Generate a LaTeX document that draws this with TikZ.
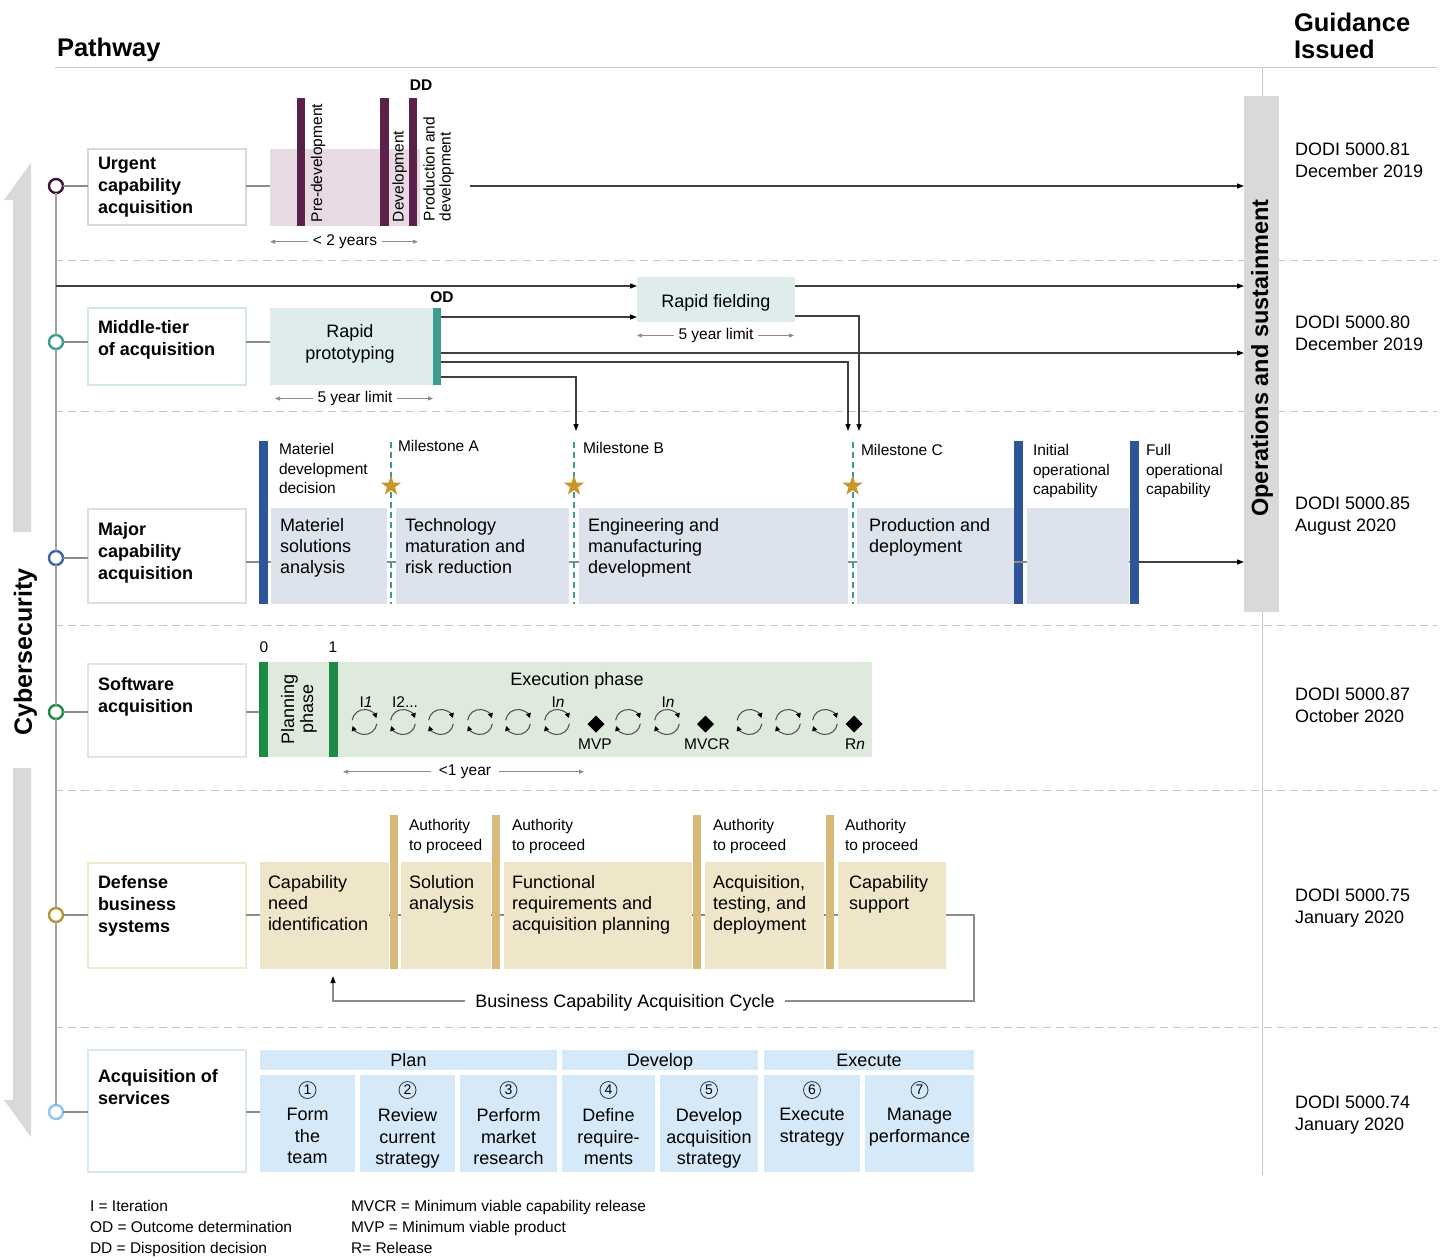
\documentclass[tikz,border=0pt]{standalone}
\usepackage{fontspec}
\setmainfont{Liberation Sans}
\usetikzlibrary{arrows.meta,shapes.geometric,calc}
\definecolor{sepgray}{HTML}{C4C4C4}
\definecolor{rulegray}{HTML}{C8C8C8}
\definecolor{rowgray}{HTML}{8C8C8C}
\definecolor{spinegray}{HTML}{A0A0A0}
\definecolor{dline}{HTML}{3F3F3F}
\definecolor{dimgray}{HTML}{8C8C8C}
\definecolor{osgray}{HTML}{D9D9D9}
\definecolor{cyberg}{HTML}{D9D9D9}
\definecolor{pinkL}{HTML}{E8DAE2}
\definecolor{purpD}{HTML}{5C2149}
\definecolor{tealL}{HTML}{DEEDEC}
\definecolor{tealD}{HTML}{3B9C8F}
\definecolor{blueL}{HTML}{DDE3EC}
\definecolor{blueD}{HTML}{2E5597}
\definecolor{greenL}{HTML}{DEEADC}
\definecolor{greenD}{HTML}{1E8A47}
\definecolor{goldL}{HTML}{EFE5C9}
\definecolor{goldD}{HTML}{D7B97A}
\definecolor{skyL}{HTML}{D5E9F8}
\definecolor{starcol}{HTML}{C9962B}
\definecolor{lbA}{HTML}{DCD6D9}
\definecolor{lbB}{HTML}{D3E8E5}
\definecolor{lbC}{HTML}{D6DEEA}
\definecolor{lbD}{HTML}{DCE9DB}
\definecolor{lbE}{HTML}{F2E7C6}
\definecolor{lbF}{HTML}{D5E9F8}
\definecolor{cA}{HTML}{3E1236}
\definecolor{cB}{HTML}{3B9C8F}
\definecolor{cC}{HTML}{3A63A8}
\definecolor{cD}{HTML}{1E8A47}
\definecolor{cE}{HTML}{B8952F}
\definecolor{cF}{HTML}{8EC6EE}
\tikzset{
  every node/.style={inner sep=0pt, outer sep=0pt},
  wh/.style 2 args={minimum width=#1pt, minimum height=#2pt, anchor=north west},
  lbox/.style={draw, line width=2pt, fill=white},
  dotc/.style={circle, draw, line width=2.4pt, fill=white, minimum size=14pt},
  rowline/.style={draw=rowgray, line width=1.1pt},
  spine/.style={draw=spinegray, line width=1.3pt},
  conn/.style={draw=dline, line width=1.1pt, -{Triangle[length=7pt,width=5pt,color=black]}},
  grayconn/.style={draw=rowgray, line width=1.1pt, -{Triangle[length=7pt,width=5pt,color=black]}},
  dimarr/.style={draw=dimgray, line width=0.8pt, -{Triangle[length=5pt,width=4pt]}},
  sep/.style={draw=sepgray, line width=1pt, dash pattern=on 8pt off 5pt},
  rule/.style={draw=rulegray, line width=1pt},
  msd/.style={draw=tealD, line width=2pt, dash pattern=on 6pt off 4pt},
  starn/.style={star, star points=5, star point ratio=2.5, fill=starcol, minimum size=21pt},
  dia/.style={diamond, fill=black, minimum width=17pt, minimum height=17pt},
  numc/.style={circle, draw=black!80, line width=0.8pt, minimum size=17pt, font=\fontsize{14}{14}\selectfont},
  hdr/.style={font=\bfseries\fontsize{25.5}{27}\selectfont},
  tlbl/.style={font=\bfseries\fontsize{18}{22}\selectfont, align=left, anchor=north west},
  tbig/.style={font=\fontsize{18}{21}\selectfont, align=left, anchor=north west},
  tsm/.style={font=\fontsize{15.5}{19.5}\selectfont, align=left, anchor=north west},
  tsmb/.style={font=\fontsize{15.5}{19}\selectfont, anchor=base},
  tbigb/.style={font=\fontsize{18}{21}\selectfont, anchor=base},
  tdodi/.style={font=\fontsize{18}{22}\selectfont, align=left, anchor=north west},
  tstep/.style={font=\fontsize{18}{21.5}\selectfont, align=center, anchor=north},
  tleg/.style={font=\fontsize{15.5}{21}\selectfont, align=left, anchor=north west},
  cycarr/.style={draw=black!70, line width=1pt, -{Triangle[length=5pt,width=5pt,color=black]}},
  cyc/.pic={
    \draw[cycarr, y=1pt] (172:12.5) arc[start angle=172, end angle=18, radius=12.5];
    \draw[cycarr, y=1pt] (352:12.5) arc[start angle=352, end angle=198, radius=12.5];
  }
}
\begin{document}
\begin{tikzpicture}[x=1pt,y=-1pt]
\useasboundingbox[fill=white] (0,0) rectangle (1443,1258);

% ---------- rules and separators
\draw[rule] (55,67) -- (1437,67);
\draw[rule] (1262,67) -- (1262,1175);
\foreach \yy in {260,411,625,790,1027} \draw[sep] (55,\yy) -- (1437,\yy);

% ---------- headers
\node[hdr, anchor=base west] (hpath) at (57,56) {Pathway};
\node[hdr, anchor=north west, align=left] (hguid) at (1294,13) {Guidance\\Issued};

% ---------- cybersecurity arrows
\fill[cyberg] (31,163) -- (31,532) -- (13,532) -- (13,200) -- (4,200) -- cycle;
\fill[cyberg] (13,768) -- (31,768) -- (31,1137) -- (4,1100) -- (13,1100) -- cycle;
\node[rotate=90, font=\bfseries\fontsize{25}{30}\selectfont] (cyber) at (25.5,652) {Cybersecurity};

% ---------- operations and sustainment
\node[fill=osgray, wh={35}{516}] (os) at (1244,96) {};
\node[rotate=90, font=\bfseries\fontsize{23.5}{28}\selectfont] (ostxt) at (1262,358) {Operations and sustainment};

% ---------- circles and spine
\node[dotc, draw=cA] (c1) at (56,186) {};
\node[dotc, draw=cB] (c2) at (56,342) {};
\node[dotc, draw=cC] (c3) at (56,558) {};
\node[dotc, draw=cD] (c4) at (56,712) {};
\node[dotc, draw=cE] (c5) at (56,915) {};
\node[dotc, draw=cF] (c6) at (56,1112) {};
\draw[spine] (c1) -- (c2);
\draw[spine] (c2) -- (c3);
\draw[spine] (c3) -- (c4);
\draw[spine] (c4) -- (c5);
\draw[spine] (c5) -- (c6);

% ---------- label boxes
\node[lbox, draw=lbA, wh={158}{76}] (lb1) at (88,149) {};
\node[lbox, draw=lbB, wh={158}{77}] (lb2) at (88,308) {};
\node[lbox, draw=lbC, wh={158}{94}] (lb3) at (88,509) {};
\node[lbox, draw=lbD, wh={158}{93}] (lb4) at (88,664) {};
\node[lbox, draw=lbE, wh={158}{105}] (lb5) at (88,863) {};
\node[lbox, draw=lbF, wh={158}{122}] (lb6) at (88,1050) {};
\node[tlbl] (lt1) at (98,157) {Urgent\\capability\\acquisition};
\node[tlbl] (lt2) at (98,320) {Middle-tier\\of acquisition};
\node[tlbl] (lt3) at (98,522) {Major\\capability\\acquisition};
\node[tlbl] (lt4) at (98,677) {Software\\acquisition};
\node[tlbl] (lt5) at (98,875) {Defense\\business\\systems};
\node[tlbl] (lt6) at (98,1069) {Acquisition of\\services};
\draw[rowline] (c1) -- (lb1.west |- c1);
\draw[rowline] (c2) -- (lb2.west |- c2);
\draw[rowline] (c3) -- (lb3.west |- c3);
\draw[rowline] (c4) -- (lb4.west |- c4);
\draw[rowline] (c5) -- (lb5.west |- c5);
\draw[rowline] (c6) -- (lb6.west |- c6);

% ---------- DODI texts
\node[tdodi] (g1t) at (1295,142.5) {DODI 5000.81\\December 2019};
\node[tdodi] (g2t) at (1295,315.5) {DODI 5000.80\\December 2019};
\node[tdodi] (g3t) at (1295,496.5) {DODI 5000.85\\August 2020};
\node[tdodi] (g4t) at (1295,687.5) {DODI 5000.87\\October 2020};
\node[tdodi] (g5t) at (1295,888.5) {DODI 5000.75\\January 2020};
\node[tdodi] (g6t) at (1295,1095.5) {DODI 5000.74\\January 2020};

% ================= URGENT
\node[fill=pinkL, wh={150}{77}] (pk) at (270,149) {};
\draw[rowline] (lb1.east |- c1) -- (pk.west |- c1);
\node[fill=purpD, wh={8}{128}] (ub1) at (297,98) {};
\node[fill=purpD, wh={9}{128}] (ub2) at (380,98) {};
\node[fill=purpD, wh={8}{128}] (ub3) at (409,98) {};
\node[rotate=90, anchor=west, font=\fontsize{15.5}{19}\selectfont] (ut1) at (318,222) {Pre-development};
\node[rotate=90, anchor=west, font=\fontsize{15.5}{19}\selectfont] (ut2) at (399.5,222) {Development};
\node[rotate=90, anchor=north west, align=left, font=\fontsize{15.5}{16}\selectfont] (ut3) at (423.5,221) {Production and\\development};
\node[font=\bfseries\fontsize{15.5}{18}\selectfont, anchor=base] (dd) at (421,90.5) {DD};
\node[tsmb] (y2) at (345,245.5) {< 2 years};
\draw[dimarr] ($(y2.west)+(-5,0)$) -- (pk.west |- y2);
\draw[dimarr] ($(y2.east)+(5,0)$) -- ($(pk.east |- y2)+(-2,0)$);
\coordinate (u0) at (470,186);
\draw[conn] (u0) -- (os.west |- u0);

% ================= MIDDLE-TIER
\node[fill=tealL, wh={163}{77}] (rp) at (270,308) {};
\draw[rowline] (lb2.east |- c2) -- (rp.west |- c2);
\node[font=\fontsize{18}{22}\selectfont, align=center] (rpt) at (350,344) {Rapid\\prototyping};
\node[fill=tealD, wh={8}{77}] (odb) at (433,308) {};
\node[font=\bfseries\fontsize{15.5}{18}\selectfont, anchor=base] (od) at (442,302.5) {OD};
\node[tsmb] (y5a) at (355,402.5) {5 year limit};
\draw[dimarr] ($(y5a.west)+(-5,0)$) -- ($(rp.west |- y5a)+(5,0)$);
\draw[dimarr] ($(y5a.east)+(5,0)$) -- (rp.east |- y5a);
\node[fill=tealL, wh={158}{45}] (rf) at (637,277) {};
\node[tbigb] (rft) at (716,307.5) {Rapid fielding};
\node[tsmb] (y5b) at (716,339.5) {5 year limit};
\draw[dimarr] ($(y5b.west)+(-5,0)$) -- (rf.west |- y5b);
\draw[dimarr] ($(y5b.east)+(5,0)$) -- ($(rf.east |- y5b)+(-1,0)$);
\coordinate (s286) at (56,286);
\draw[conn] (s286) -- (rf.west |- s286);
\draw[conn] (rf.east |- s286) -- (os.west |- s286);
\coordinate (o1) at (441,317);
\coordinate (o2) at (441,353);
\coordinate (o3) at (441,362);
\coordinate (o4) at (441,377);
\coordinate (r1) at (795,316);
\coordinate (mb) at (576,431);
\coordinate (mc1) at (848,431);
\coordinate (mc2) at (859,431);
\draw[conn] (o1) -- (rf.west |- o1);
\draw[conn] (o2) -- (os.west |- o2);
\draw[conn] (o3) -| (mc1);
\draw[conn] (o4) -| (mb);
\draw[conn] (r1) -| (mc2);

% ================= MAJOR
\coordinate (m0) at (246,562);
\node[fill=blueD, wh={9}{163}] (ioc) at (1014,441) {};
\node[fill=blueD, wh={9}{163}] (foc) at (1130,441) {};
\draw[rowline] (m0) -- (foc.west |- m0);
\node[fill=blueL, wh={116}{96}] (b31) at (271,508) {};
\node[fill=blueL, wh={173}{96}] (b32) at (396,508) {};
\node[fill=blueL, wh={269}{96}] (b33) at (579,508) {};
\node[fill=blueL, wh={157}{96}] (b34) at (857,508) {};
\node[fill=blueL, wh={102}{96}] (b35) at (1027,508) {};
\node[fill=blueD, wh={9}{163}] (mdd) at (259,441) {};
\coordinate (mAt) at (391,442); \coordinate (mAb) at (391,604);
\coordinate (mBt) at (574,442); \coordinate (mBb) at (574,604);
\coordinate (mCt) at (852.5,442); \coordinate (mCb) at (852.5,604);
\draw[msd] (mAt) -- (mAb);
\draw[msd] (mBt) -- (mBb);
\draw[msd] (mCt) -- (mCb);
\node[starn] (sA) at (391,486) {};
\node[starn] (sB) at (574,486) {};
\node[starn] (sC) at (852.5,486) {};
\node[tsm] (mddt) at (279,443.5) {Materiel\\development\\decision};
\node[tsm] (mAl) at (398,440) {Milestone A};
\node[tsm] (mBl) at (583,442) {Milestone B};
\node[tsm] (mCl) at (861,444) {Milestone C};
\node[tsm] (ioct) at (1033,444.5) {Initial\\operational\\capability};
\node[tsm] (foct) at (1146,444.5) {Full\\operational\\capability};
\node[tbig] (b31t) at (280,518.5) {Materiel\\solutions\\analysis};
\node[tbig] (b32t) at (405,518.5) {Technology\\maturation and\\risk reduction};
\node[tbig] (b33t) at (588,518.5) {Engineering and\\manufacturing\\development};
\node[tbig] (b34t) at (869,518.5) {Production and\\deployment};
\draw[conn] (foc.east |- m0) -- (os.west |- m0);

% ================= SOFTWARE
\node[fill=greenL, wh={604}{95}] (swf) at (268,662) {};
\draw[rowline] (lb4.east |- c4) -- (swf.west |- c4);
\node[fill=greenD, wh={9}{95}] (g0) at (259,662) {};
\node[fill=greenD, wh={9}{95}] (g1) at (329,662) {};
\node[tsmb] (z0) at (264,652.5) {0};
\node[tsmb] (z1) at (333,652.5) {1};
\node[rotate=90, align=center, font=\fontsize{18}{19}\selectfont] (plan) at (299,709) {Planning\\phase};
\node[tbigb] (exe) at (577,685.5) {Execution phase};
\foreach \cx [count=\ci] in {364.5,403,441,480,518,557,628,667,749.5,788,825}
  \pic (cy\ci) at (\cx,722) {cyc};
\node[dia] (dmvp) at (596,724) {};
\node[dia] (dmvcr) at (705.5,724) {};
\node[dia] (drn) at (854,724) {};
\node[tsmb] (li1) at (366,707.5) {I\textit{1}};
\node[tsmb] (li2) at (405,707.5) {I2...};
\node[tsmb] (lin1) at (558,707.5) {I\textit{n}};
\node[tsmb] (lin2) at (668,707.5) {I\textit{n}};
\node[tsmb] (lmvp) at (595,749.5) {MVP};
\node[tsmb] (lmvcr) at (707,749.5) {MVCR};
\node[tsmb] (lrn) at (855,749.5) {R\textit{n}};
\node[tsmb] (y1) at (465,775.5) {<1 year};
\coordinate (yr1) at (584,770);
\draw[dimarr] ($(y1.west)+(-8,0)$) -- ($(g1.east |- y1)+(5,0)$);
\draw[dimarr] ($(y1.east)+(8,0)$) -- (yr1 |- y1);

% ================= DEFENSE BUSINESS
\node[font=\fontsize{18}{21}\selectfont, inner xsep=10pt, anchor=base] (bcac) at (625,1007.5) {Business Capability Acquisition Cycle};
\coordinate (kc1) at (974,915);
\coordinate (kc2) at (974,1001);
\coordinate (kup) at (333,976);
\draw[rowline] (lb5.east |- c5) -- (kc1) -- (kc2) -- (bcac.east |- kc2);
\draw[grayconn] (bcac.west |- kc2) -| (kup);
\node[fill=goldL, wh={129}{107}] (d1) at (260,862) {};
\node[fill=goldL, wh={90}{107}] (d2) at (401,862) {};
\node[fill=goldL, wh={188}{107}] (d3) at (504,862) {};
\node[fill=goldL, wh={119}{107}] (d4) at (705,862) {};
\node[fill=goldL, wh={108}{107}] (d5) at (838,862) {};
\node[fill=goldD, wh={8}{154}] (a1) at (390,815) {};
\node[fill=goldD, wh={8}{154}] (a2) at (492,815) {};
\node[fill=goldD, wh={8}{154}] (a3) at (693,815) {};
\node[fill=goldD, wh={8}{154}] (a4) at (826,815) {};
\node[tsm] (at1) at (409,819.5) {Authority\\to proceed};
\node[tsm] (at2) at (512,819.5) {Authority\\to proceed};
\node[tsm] (at3) at (713,819.5) {Authority\\to proceed};
\node[tsm] (at4) at (845,819.5) {Authority\\to proceed};
\node[tbig] (d1t) at (268,875.5) {Capability\\need\\identification};
\node[tbig] (d2t) at (409,875.5) {Solution\\analysis};
\node[tbig] (d3t) at (512,875.5) {Functional\\requirements and\\acquisition planning};
\node[tbig] (d4t) at (713,875.5) {Acquisition,\\testing, and\\deployment};
\node[tbig] (d5t) at (849,875.5) {Capability\\support};

% ================= SERVICES
\node[fill=skyL, wh={297}{20}] (hp) at (260,1050) {};
\node[fill=skyL, wh={196}{20}] (hd) at (562,1050) {};
\node[fill=skyL, wh={210}{20}] (he) at (764,1050) {};
\node[tbigb] (hpt) at (408.5,1066.5) {Plan};
\node[tbigb] (hdt) at (660,1066.5) {Develop};
\node[tbigb] (het) at (869,1066.5) {Execute};
\node[fill=skyL, wh={95}{97}] (s1) at (260,1075) {};
\node[fill=skyL, wh={95}{97}] (s2) at (360,1075) {};
\node[fill=skyL, wh={97}{97}] (s3) at (460,1075) {};
\node[fill=skyL, wh={93}{97}] (s4) at (562,1075) {};
\node[fill=skyL, wh={98}{97}] (s5) at (660,1075) {};
\node[fill=skyL, wh={96}{97}] (s6) at (764,1075) {};
\node[fill=skyL, wh={109}{97}] (s7) at (865,1075) {};
\draw[rowline] (lb6.east |- c6) -- (s1.west |- c6);
\node[numc] (n1) at (307.5,1090) {1};
\node[numc] (n2) at (407.5,1090) {2};
\node[numc] (n3) at (508.5,1090) {3};
\node[numc] (n4) at (608.5,1090) {4};
\node[numc] (n5) at (709,1090) {5};
\node[numc] (n6) at (812,1090) {6};
\node[numc] (n7) at (919.5,1090) {7};
\node[tstep] (st1) at (307.5,1108.5) {Form\\the\\team};
\node[tstep] (st2) at (407.5,1108.5) {Review\\current\\strategy};
\node[tstep] (st3) at (508.5,1108.5) {Perform\\market\\research};
\node[tstep] (st4) at (608.5,1108.5) {Define\\require-\\ments};
\node[tstep] (st5) at (709,1108.5) {Develop\\acquisition\\strategy};
\node[tstep] (st6) at (812,1108.5) {Execute\\strategy};
\node[tstep] (st7) at (919.5,1108.5) {Manage\\performance};

% ================= LEGEND
\node[tleg] (leg1) at (90,1200.5) {I = Iteration\\OD = Outcome determination\\DD = Disposition decision};
\node[tleg] (leg2) at (351,1200.5) {MVCR = Minimum viable capability release\\MVP = Minimum viable product\\R= Release};
\end{tikzpicture}
\end{document}
